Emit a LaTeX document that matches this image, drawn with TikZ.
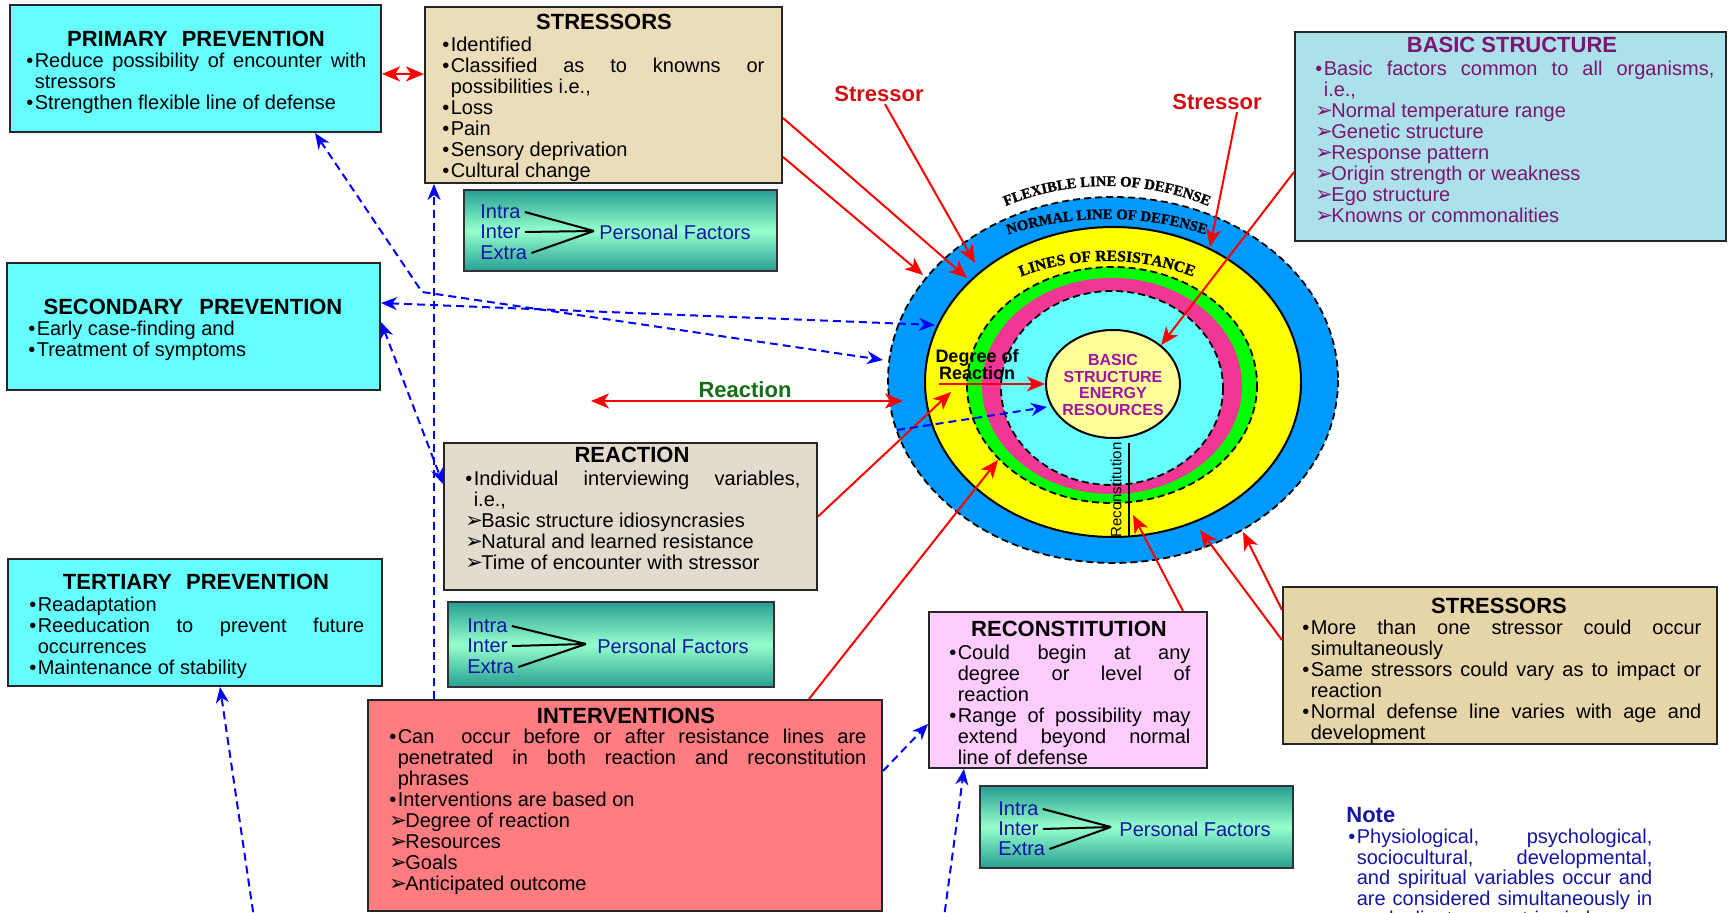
\documentclass[tikz,border=0pt]{standalone}
\usepackage{fontspec}
\setmainfont{Liberation Sans}
\newfontfamily\symfont{DejaVu Sans}
\newfontfamily\arcfont[BoldFeatures={FakeBold=1.2}]{Liberation Serif}
\usetikzlibrary{arrows.meta,fit,decorations.text,shapes.geometric}

\definecolor{prevcyan}{RGB}{102,255,255}
\definecolor{parchment}{RGB}{236,221,186}
\definecolor{parchdark}{RGB}{231,213,170}
\definecolor{stonegray}{RGB}{226,219,206}
\definecolor{waterblue}{RGB}{172,224,234}
\definecolor{plum}{RGB}{122,22,112}
\definecolor{recpink}{RGB}{255,204,255}
\definecolor{salmon}{RGB}{255,124,128}
\definecolor{tealdark}{RGB}{38,158,146}
\definecolor{mint}{RGB}{150,255,204}
\definecolor{navytext}{RGB}{20,20,165}
\definecolor{ringblue}{RGB}{0,153,255}
\definecolor{ringyellow}{RGB}{255,255,0}
\definecolor{ringgreen}{RGB}{0,255,0}
\definecolor{ringpink}{RGB}{240,55,150}
\definecolor{ringcyan}{RGB}{102,255,255}
\definecolor{coreyellow}{RGB}{255,255,153}
\definecolor{corepurple}{RGB}{160,20,160}
\definecolor{labelred}{RGB}{210,15,15}
\definecolor{labelgreen}{RGB}{20,110,20}

% bullet item and arrowhead item with hanging indent
\newcommand\blt[1]{\par\hangindent=4.2pt\hangafter=1\noindent\rule{0pt}{8pt}\makebox[4.2pt][l]{\textbullet}#1\par}
\newcommand\arw[1]{\par\hangindent=8pt\hangafter=1\noindent\rule{0pt}{8pt}\makebox[8pt][l]{\symfont\fontsize{10.5}{10}\selectfont ➢}#1\par}

\tikzset{
  frame/.style={draw=black!85, line width=1pt, inner sep=0pt},
  ttl/.style={font=\bfseries\fontsize{11}{12}\selectfont, anchor=base, inner sep=0pt},
  txt/.style={text width=#1, align=justify, anchor=north west, inner sep=0pt, yshift=2.25pt,
    font={\fontsize{10}{10.5}\selectfont\tolerance=10000 \hyphenpenalty=10000 }},
  pfword/.style={font=\fontsize{10}{12}\selectfont, text=navytext, anchor=west, inner sep=2pt},
  pfbox/.style={frame, draw=black!80, top color=tealdark, bottom color=tealdark, middle color=mint},
  pfline/.style={draw=black, line width=1pt},
  redarrow/.style={draw=red, line width=1pt, >={Stealth[length=9pt,width=7.5pt,inset=2.5pt]}},
  bluearrow/.style={draw=blue, line width=1pt, dash pattern=on 4pt off 2.5pt,
    >={Stealth[length=8pt,width=6.5pt,inset=2.5pt]}},
  ringdash/.style={draw=black, line width=0.9pt, dash pattern=on 3.5pt off 2pt},
  arctext/.style={decorate, decoration={text along path, text align=center, text={#1}}},
  lbl/.style={font=\bfseries\fontsize{11}{12}\selectfont, inner sep=1pt},
}

\begin{document}
\begin{tikzpicture}[x=0.5pt,y=-0.5pt]
\path[use as bounding box, fill=white] (0,0) rectangle (1728,913);
\clip (0,0) rectangle (1728,913);

% ---------------- boxes ----------------
% primary prevention
\node[frame, fill=prevcyan, fit={(10,5.5) (381,132)}] (pp) {};
\node[ttl] (ppT) at (196,46.5) {PRIMARY\hspace{7pt}PREVENTION};
\node[txt=170pt] (ppB) at (26,50.5) {\blt{Reduce possibility of encounter with\linebreak stressors}\blt{Strengthen flexible line of defense}};

% stressors (top)
\node[frame, fill=parchment, fit={(425,6.6) (782,183)}] (st1) {};
\node[ttl] (st1T) at (604,30) {STRESSORS};
\node[txt=161pt] (st1B) at (442,35) {\blt{Identified}\blt{Classified as to knowns or\linebreak possibilities i.e.,}\blt{Loss}\blt{Pain}\blt{Sensory deprivation}\blt{Cultural change}};

% personal factors 1
\node[pfbox, fit={(464,190) (777,271)}] (pf1) {};
\node[pfword] (pf1a) at (476,212) {Intra};
\node[pfword] (pf1b) at (476,232) {Inter};
\node[pfword] (pf1c) at (476,253) {Extra};
\coordinate (pf1x) at (594,231);
\node[pfword] (pf1n) at (595,232) {Personal Factors};
\draw[pfline] (pf1a.east) -- (pf1x) (pf1b.east) -- (pf1x) (pf1c.east) -- (pf1x);

% basic structure
\node[frame, fill=waterblue, fit={(1295,32) (1726,241)}] (bs) {};
\node[ttl, text=plum] (bsT) at (1512,53) {BASIC STRUCTURE};
\node[txt=199.5pt, text=plum] (bsB) at (1315,59) {\blt{Basic factors common to all organisms,\linebreak i.e.,}\arw{Normal temperature range}\arw{Genetic structure}\arw{Response pattern}\arw{Origin strength or weakness}\arw{Ego structure}\arw{Knowns or commonalities}};

% secondary prevention
\node[frame, fill=prevcyan, fit={(7,263) (380,390)}] (sp) {};
\node[ttl] (spT) at (193,315) {SECONDARY\hspace{8pt}PREVENTION};
\node[txt=170pt] (spB) at (28,319) {\blt{Early case-finding and}\blt{Treatment of symptoms}};

% tertiary prevention
\node[frame, fill=prevcyan, fit={(8,559) (382,686)}] (tp) {};
\node[ttl] (tpT) at (196,590) {TERTIARY\hspace{7pt}PREVENTION};
\node[txt=167.5pt] (tpB) at (29,595) {\blt{Readaptation}\blt{Reeducation to prevent future\linebreak occurrences}\blt{Maintenance of stability}};

% reaction
\node[frame, fill=stonegray, fit={(444,443) (817,590)}] (rx) {};
\node[ttl] (rxT) at (632,463) {REACTION};
\node[txt=167.5pt] (rxB) at (465,469) {\blt{Individual interviewing variables,\linebreak i.e.,}\arw{Basic structure idiosyncrasies}\arw{Natural and learned resistance}\arw{Time of encounter with stressor}};

% personal factors 2
\node[pfbox, fit={(448,602) (774,687)}] (pf2) {};
\node[pfword] (pf2a) at (463,626) {Intra};
\node[pfword] (pf2b) at (463,646) {Inter};
\node[pfword] (pf2c) at (463,667) {Extra};
\coordinate (pf2x) at (586,644);
\node[pfword] (pf2n) at (593,646) {Personal Factors};
\draw[pfline] (pf2a.east) -- (pf2x) (pf2b.east) -- (pf2x) (pf2c.east) -- (pf2x);

% interventions
\node[frame, fill=salmon, fit={(368,700) (882,911)}] (iv) {};
\node[ttl] (ivT) at (626,723) {INTERVENTIONS};
\node[txt=238.5pt] (ivB) at (389,727) {\blt{Can\ \ occur before or after resistance lines are\linebreak penetrated in both reaction and reconstitution\linebreak phrases}\blt{Interventions are based on}\arw{Degree of reaction}\arw{Resources}\arw{Goals}\arw{Anticipated outcome}};

% reconstitution
\node[frame, fill=recpink, fit={(929,612) (1207,768)}] (rc) {};
\node[ttl] (rcT) at (1069,637) {RECONSTITUTION};
\node[txt=120.5pt] (rcB) at (949,643) {\blt{Could begin at any\linebreak degree or level of\linebreak reaction}\blt{Range of possibility may\linebreak extend beyond normal\linebreak line of defense}};

% stressors (bottom right)
\node[frame, fill=parchdark, fit={(1283,587) (1717,744)}] (st2) {};
\node[ttl] (st2T) at (1499,614) {STRESSORS};
\node[txt=199.5pt] (st2B) at (1302,618) {\blt{More than one stressor could occur\linebreak simultaneously}\blt{Same stressors could vary as to impact or\linebreak reaction}\blt{Normal defense line varies with age and\linebreak development}};

% personal factors 3
\node[pfbox, fit={(980,786) (1293,868)}] (pf3) {};
\node[pfword] (pf3a) at (994,809) {Intra};
\node[pfword] (pf3b) at (994,829) {Inter};
\node[pfword] (pf3c) at (994,849) {Extra};
\coordinate (pf3x) at (1111,827);
\node[pfword] (pf3n) at (1115,829) {Personal Factors};
\draw[pfline] (pf3a.east) -- (pf3x) (pf3b.east) -- (pf3x) (pf3c.east) -- (pf3x);

% note
\node[anchor=base west, inner sep=0pt, font=\bfseries\fontsize{11}{12}\selectfont, text=navytext] (noteT) at (1346,822) {Note};
\node[txt=152pt, text=navytext, font={\fontsize{10}{10.3}\selectfont\tolerance=10000 \hyphenpenalty=10000 }] (noteB) at (1348,827) {\blt{Physiological, psychological,\linebreak sociocultural, developmental,\linebreak and spiritual variables occur and\linebreak are considered simultaneously in\linebreak each client concentric circle}};

% ---------------- client system rings ----------------
\path[fill=ringblue] (1113,380) ellipse [x radius=225, y radius=183];
\path[ringdash] (1113,380) ellipse [x radius=225, y radius=183];
\path[fill=ringyellow, draw=black, line width=1pt] (1113,382) ellipse [x radius=188, y radius=155];
\path[fill=ringgreen] (1112,385) ellipse [x radius=145, y radius=118];
\path[ringdash] (1112,385) ellipse [x radius=145, y radius=118];
\path[fill=ringpink] (1112,386) ellipse [x radius=130, y radius=108];
\path[fill=ringcyan] (1112,388) ellipse [x radius=111, y radius=97];
\path[ringdash] (1112,388) ellipse [x radius=111, y radius=97];
\node[ellipse, draw=black, line width=1pt, fill=coreyellow, minimum width=67pt, minimum height=54pt, inner sep=0pt] (core) at (1113,384) {};
\node[font=\bfseries\fontsize{8}{8.2}\selectfont, text=corepurple, align=center, inner sep=0pt] (coreT) at (1113,385) {BASIC\\STRUCTURE\\ENERGY\\RESOURCES};

% ring captions
\path[arctext={|\arcfont\bfseries\fontsize{7.3}{8}\selectfont|FLEXIBLE LINE OF DEFENSE}]
  (1107,382) ++(200:230 and 196) arc[start angle=200, end angle=340, x radius=230, y radius=196];
\path[arctext={|\arcfont\bfseries\fontsize{7.3}{8}\selectfont|NORMAL LINE OF DEFENSE}]
  (1107,382) ++(200:232 and 163) arc[start angle=200, end angle=340, x radius=232, y radius=163];
\path[arctext={|\arcfont\bfseries\fontsize{7.8}{8}\selectfont|LINES OF RESISTANCE}]
  (1107,382) ++(195:175 and 121) arc[start angle=195, end angle=345, x radius=175, y radius=121];

\node[anchor=base, inner sep=0pt, font=\bfseries\fontsize{9}{10}\selectfont] (deg1) at (977,362.5) {Degree of};
\node[anchor=base, inner sep=0pt, font=\bfseries\fontsize{9}{10}\selectfont] (deg2) at (977,379.5) {Reaction};
\node[rotate=90, inner sep=0pt, font=\fontsize{7.5}{8}\selectfont] (recL) at (1116,490) {Reconstitution};
\coordinate (barT) at (1129,443);
\coordinate (barB) at (1129,536);
\draw[line width=1.2pt] (barT) -- (barB);

% ---------------- labels ----------------
\node[lbl, text=labelred] (strA) at (879,94) {Stressor};
\node[lbl, text=labelred] (strB) at (1217,102) {Stressor};
\node[lbl, text=labelgreen] (reactL) at (745,390) {Reaction};

% ---------------- ring targets ----------------
\coordinate (tA) at (975,263);
\coordinate (tB) at (967,278);
\coordinate (tC) at (923,275);
\coordinate (tD) at (1210,247);
\coordinate (reacLft) at (591,401);
\coordinate (reacRgt) at (903,401);
\coordinate (tE) at (951,392);
\coordinate (tF) at (998,460);
\coordinate (tG) at (1133,515);
\coordinate (tH) at (1200,530);
\coordinate (tI) at (1243,532);
\coordinate (bendA) at (422,292);
\coordinate (tJ) at (883,360);
\coordinate (tK) at (935,325);
\coordinate (freeE) at (255,925);
\coordinate (freeG) at (943,925);
\coordinate (hS) at (897,430);
\coordinate (tL) at (1047,407);

% ---------------- red connectors ----------------
\draw[redarrow,<->] ([yshift=-2.6pt]pp.east) -- ([yshift=10.4pt]st1.west);
\draw[redarrow,->] ([xshift=3pt]strA.south) -- (tA);
\draw[redarrow,->] ([yshift=-11.6pt]st1.east) -- (tB);
\draw[redarrow,->] ([yshift=-31.1pt]st1.east) -- (tC);
\draw[redarrow,->] ([xshift=10pt]strB.south) -- (tD);
\draw[redarrow,->] ([yshift=-17.75pt]bs.west) -- (core.north east);
\draw[redarrow,<->] (reacLft) -- (reacRgt);
\draw[redarrow,->] (deg2.west |- core.west) -- (core.west);
\draw[redarrow,->] (rx.east) -- (tE);
\draw[redarrow,->] ([xshift=92pt]iv.north) -- (tF);
\draw[redarrow,->] ([xshift=57.5pt]rc.north) -- (tG);
\draw[redarrow,->] ([yshift=12.75pt]st2.west) -- (tH);
\draw[redarrow,->] ([yshift=27.75pt]st2.west) -- (tI);

% ---------------- blue dashed connectors ----------------
\draw[bluearrow,<->] ([xshift=59.75pt]pp.south) -- (bendA) -- (tJ);
\draw[bluearrow,<->] ([yshift=11.75pt]sp.east) -- (tK);
\draw[bluearrow,->] ([xshift=-95.5pt]iv.north) -- ([xshift=-84.75pt]st1.south);
\draw[bluearrow,<->] ([yshift=2.25pt]sp.east) -- ([yshift=16.25pt]rx.west);
\draw[bluearrow,->] (freeE) -- ([xshift=12.5pt]tp.south);
\draw[bluearrow,->] ([yshift=17.25pt]iv.east) -- ([yshift=-17pt]rc.west);
\draw[bluearrow,->] (freeG) -- ([xshift=-52pt]rc.south);
\draw[bluearrow,->] (hS) -- (tL);
\end{tikzpicture}
\end{document}
